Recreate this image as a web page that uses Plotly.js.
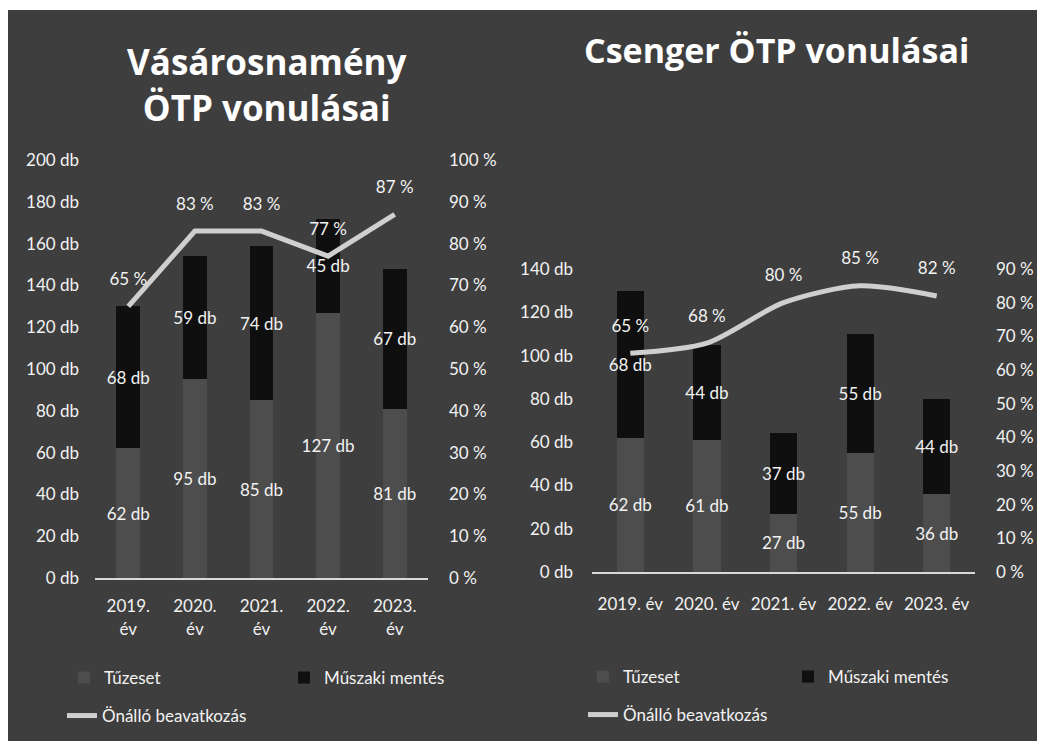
<!DOCTYPE html>
<html>
<head>
<meta charset="utf-8">
<script src="https://cdn.plot.ly/plotly-3.0.1.min.js"></script>
<style>html,body{margin:0;padding:0;background:#fff;}#chart{width:1037px;height:741px;}</style>
</head>
<body>
<div id="chart"></div>
<script>
// ---- data ----
const yearsLeft = ["2019.<br>év", "2020.<br>év", "2021.<br>év", "2022.<br>év", "2023.<br>év"];
const yearsRight = ["2019. év", "2020. év", "2021. év", "2022. év", "2023. év"];

const vasarTuzeset = [62, 95, 85, 127, 81];
const vasarMuszaki = [68, 59, 74, 45, 67];
const vasarOnallo = [65, 83, 83, 77, 87];

const csengerTuzeset = [62, 61, 27, 55, 36];
const csengerMuszaki = [68, 44, 37, 55, 44];
const csengerOnallo = [65, 68, 80, 85, 82];

const seriesNames = ["Tűzeset", "Műszaki mentés", "Önálló beavatkozás"];
const titleLeft = "Vásárosnamény<br>ÖTP vonulásai";
const titleRight = "Csenger ÖTP vonulásai";

// ---- style ----
const W = 1037, H = 741;
const FONT = "Lato, 'Open Sans', sans-serif";
const TXT = "#f2f2f2";
const BG = "#3e3e3e";
const C_TUZ = "#4d4d4d";
const C_MUS = "#0f0f0f";
const C_LINE = "#cfcfcf";
const px = v => v / W;
const py = v => 1 - v / H;

function barTrace(x, y, name, color, xa, ya, legend) {
  return {
    type: "bar", x: x, y: y, name: name, xaxis: xa, yaxis: ya,
    marker: {color: color}, legend: legend,
    texttemplate: "%{y:.0f} db", textposition: "inside", insidetextanchor: "middle",
    textangle: 0, constraintext: "none", cliponaxis: false,
    textfont: {family: FONT, size: 17, color: TXT}, hoverinfo: "skip"
  };
}
function lineTrace(x, y, name, xa, ya, legend, shape) {
  return {
    type: "scatter", mode: "lines+markers+text", x: x, y: y, name: name,
    xaxis: xa, yaxis: ya, legend: legend,
    line: {color: C_LINE, width: 5, shape: shape, smoothing: 0.8},
    marker: {size: 26, color: "rgba(0,0,0,0)"},
    texttemplate: "%{y:.0f} %", textposition: "top center", cliponaxis: false,
    textfont: {family: FONT, size: 17, color: TXT}, hoverinfo: "skip"
  };
}

const data = [
  barTrace(yearsLeft, vasarTuzeset, seriesNames[0], C_TUZ, "x", "y", "legend"),
  barTrace(yearsLeft, vasarMuszaki, seriesNames[1], C_MUS, "x", "y", "legend"),
  lineTrace(yearsLeft, vasarOnallo, seriesNames[2], "x", "y2", "legend2", "linear"),
  barTrace(yearsRight, csengerTuzeset, seriesNames[0], C_TUZ, "x2", "y3", "legend3"),
  barTrace(yearsRight, csengerMuszaki, seriesNames[1], C_MUS, "x2", "y3", "legend3"),
  lineTrace(yearsRight, csengerOnallo, seriesNames[2], "x2", "y4", "legend4", "spline")
];

const tickFont = {family: FONT, size: 17, color: TXT};
function yAx(domain, range, dtick, suffix, side, standoff, anchor, overlay) {
  const a = {
    domain: domain, range: range, dtick: dtick, ticksuffix: suffix, side: side,
    showgrid: false, zeroline: false, showline: false, ticks: "",
    tickfont: tickFont, ticklabelstandoff: standoff, anchor: anchor, fixedrange: true
  };
  if (overlay) { a.overlaying = overlay; delete a.domain; }
  return a;
}
function legendBox(x, y, ew) {
  return {
    orientation: "h", x: x, y: y, xanchor: "left", yanchor: "middle",
    bgcolor: "rgba(0,0,0,0)", borderwidth: 0, entrywidth: ew, entrywidthmode: "pixels",
    font: {family: FONT, size: 17, color: TXT}, traceorder: "normal"
  };
}

const layout = {
  width: W, height: H,
  margin: {l: 0, r: 0, t: 0, b: 0},
  paper_bgcolor: "#ffffff", plot_bgcolor: "rgba(0,0,0,0)",
  barmode: "stack", bargap: 0.645,
  showlegend: true,
  xaxis: {domain: [px(95), px(428)], anchor: "y", showline: true, linecolor: "#d9d9d9", linewidth: 2,
          ticks: "", tickfont: tickFont, showgrid: false, ticklabelstandoff: 12, fixedrange: true},
  yaxis: yAx([py(578), py(160)], [0, 200], 20, " db", "left", 15, "x"),
  yaxis2: yAx(null, [0, 100], 10, " %", "right", 20, "x", "y"),
  xaxis2: {domain: [px(592), px(975)], anchor: "y3", showline: true, linecolor: "#d9d9d9", linewidth: 2,
           ticks: "", tickfont: tickFont, showgrid: false, ticklabelstandoff: 16, fixedrange: true},
  yaxis3: yAx([py(572), py(269)], [0, 140], 20, " db", "left", 18, "x2"),
  yaxis4: yAx(null, [0, 90], 10, " %", "right", 20, "x2", "y3"),
  legend: legendBox(px(64), py(678), 175),
  legend2: legendBox(px(62), py(716), 200),
  legend3: legendBox(px(583), py(677), 160),
  legend4: legendBox(px(583), py(715), 200),
  shapes: [{type: "rect", xref: "paper", yref: "paper", x0: px(8), x1: 1, y0: 0, y1: py(10),
            fillcolor: BG, line: {width: 0}, layer: "below"}],
  annotations: [
    {xref: "paper", yref: "paper", x: px(267), y: py(85), xanchor: "center", yanchor: "middle",
     text: titleLeft, showarrow: false,
     font: {family: "'Open Sans', sans-serif", size: 35, color: "#ffffff", weight: 700}},
    {xref: "paper", yref: "paper", x: px(776), y: py(50), xanchor: "center", yanchor: "middle",
     text: titleRight, showarrow: false,
     font: {family: "'Open Sans', sans-serif", size: 34, color: "#ffffff", weight: 700}}
  ]
};

Plotly.newPlot("chart", data, layout, {displayModeBar: false, staticPlot: true});
</script>
</body>
</html>
